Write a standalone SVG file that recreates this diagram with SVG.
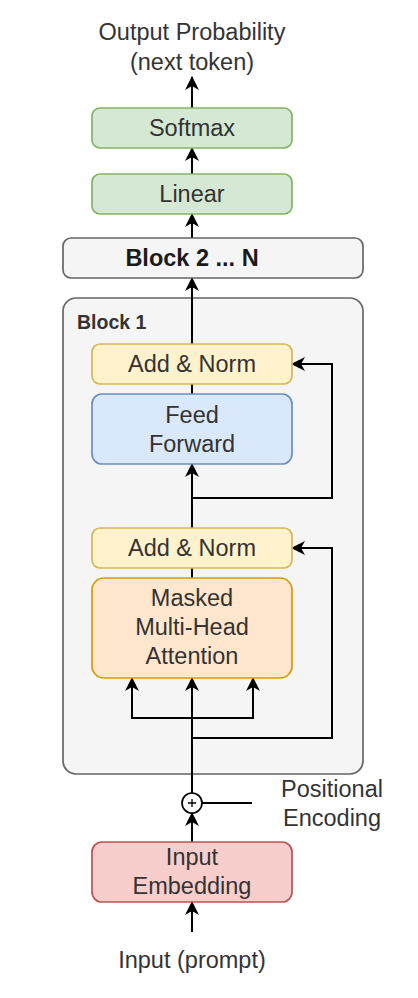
<svg xmlns="http://www.w3.org/2000/svg" width="418" height="998" viewBox="0 0 418 998">
<style>
text{font-family:"Liberation Sans",Arial,sans-serif;font-size:23.5px;fill:#333333;text-anchor:middle}
.b{font-weight:bold}
.box{stroke-width:1.7}
.green{fill:#d5e8d4;stroke:#82b366}
.gray{fill:#f5f5f5;stroke:#666666}
.yellow{fill:#fff2cc;stroke:#d6b656}
.blue{fill:#dae8fc;stroke:#6c8ebf}
.orange{fill:#ffe6cc;stroke:#d79b00}
.red{fill:#f8cecc;stroke:#b85450}
.c{fill:none;stroke:#000000;stroke-width:2}
.a{marker-end:url(#arr)}
</style>
<defs>
<marker id="arr" viewBox="0 0 14 14" refX="13" refY="7" markerWidth="14" markerHeight="14" markerUnits="userSpaceOnUse" orient="auto">
<path d="M0,0 L14,7 L0,14 L4,7 Z" fill="#000000"/>
</marker>
</defs>
<g id="block1">
<rect class="box gray" x="63" y="298" width="300" height="476" rx="13"/>
<text class="b" x="77" y="329" style="font-size:19.5px;text-anchor:start">Block 1</text>
</g>
<g id="connectors">
<path class="c a" d="M192,108 V77"/>
<path class="c a" d="M192,174 V148"/>
<path class="c a" d="M192,238 V214"/>
<path class="c a" d="M192,344 V278"/>
<path class="c" d="M192,394 V384"/>
<path class="c a" d="M192,528 V464"/>
<path class="c a" d="M192,498 H332 V364 H292"/>
<path class="c" d="M192,578 V568"/>
<path class="c a" d="M192,793 V678"/>
<path class="c a" d="M192,718 H132 V678"/>
<path class="c a" d="M192,718 H253 V678"/>
<path class="c a" d="M192,738 H332 V548 H292"/>
<path class="c" d="M202,803 H252"/>
<path class="c a" d="M192,842 V813"/>
<path class="c a" d="M192,932 V902"/>
</g>
<g id="output-label">
<text x="192" y="40">Output Probability</text>
<text x="192" y="70">(next token)</text>
</g>
<g id="softmax">
<rect class="box green" x="92" y="108" width="200" height="40" rx="8"/>
<text x="192" y="136">Softmax</text>
</g>
<g id="linear">
<rect class="box green" x="92" y="174" width="200" height="40" rx="8"/>
<text x="192" y="202">Linear</text>
</g>
<g id="block2n">
<rect class="box gray" x="63" y="238" width="300" height="40" rx="8"/>
<text class="b" x="192" y="266" style="fill:#1a1a1a">Block 2 ... N</text>
</g>
<g id="addnorm1">
<rect class="box yellow" x="92" y="344" width="200" height="40" rx="8"/>
<text x="192" y="372">Add &amp; Norm</text>
</g>
<g id="feedforward">
<rect class="box blue" x="92" y="394" width="200" height="70" rx="10"/>
<text x="192" y="423">Feed</text>
<text x="192" y="452">Forward</text>
</g>
<g id="addnorm2">
<rect class="box yellow" x="92" y="528" width="200" height="40" rx="8"/>
<text x="192" y="556">Add &amp; Norm</text>
</g>
<g id="mha">
<rect class="box orange" x="92" y="578" width="200" height="100" rx="12"/>
<text x="192" y="606">Masked</text>
<text x="192" y="635">Multi-Head</text>
<text x="192" y="664">Attention</text>
</g>
<g id="sum">
<circle cx="192" cy="803" r="10" fill="#ffffff" stroke="#000000" stroke-width="1.7"/>
<path d="M188,803 H196 M192,799 V807" stroke="#000000" stroke-width="1.3"/>
</g>
<g id="positional-label">
<text x="332" y="797">Positional</text>
<text x="332" y="826">Encoding</text>
</g>
<g id="embedding">
<rect class="box red" x="92" y="842" width="200" height="60" rx="10"/>
<text x="192" y="865">Input</text>
<text x="192" y="894">Embedding</text>
</g>
<g id="input-label">
<text x="192" y="968">Input (prompt)</text>
</g>
</svg>
